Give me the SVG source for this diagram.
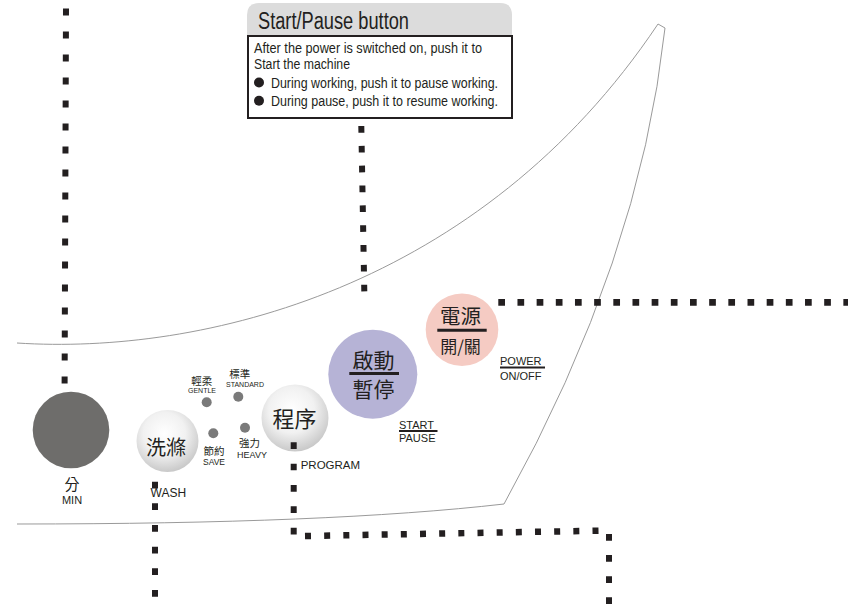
<svg xmlns="http://www.w3.org/2000/svg" width="848" height="605" viewBox="0 0 848 605">
<style>
.outline{fill:none;stroke:#9a9a9a;stroke-width:1}
.dots{fill:none;stroke:#231f20}
.en{font-family:"Liberation Sans",Arial,sans-serif;fill:#231f20}
.cjk{font-family:"Noto Sans CJK TC","Noto Sans CJK SC",sans-serif;fill:#231f20}
.mid{text-anchor:middle}
.dot{fill:#7a7a7a}
.rule{stroke:#231f20}
</style>
<defs>
<radialGradient id="sphere" cx="0.45" cy="0.38" r="0.62">
<stop offset="0" stop-color="#ffffff"/>
<stop offset="0.55" stop-color="#f1f1f1"/>
<stop offset="1" stop-color="#c9c9c9"/>
</radialGradient>
</defs>
<rect width="848" height="605" fill="#ffffff"/>

<g id="panel-outline">
<path class="outline" d="M17,343 C200,355 480,290 658,24 L665,28 Q640,260 504,504 Q330,524 17,524"/>
</g>

<g id="callout">
<path d="M247,35 V15 Q247,3 259,3 H500 Q512,3 512,15 V35 Z" fill="#dcdcdc"/>
<rect x="248" y="36" width="264" height="82" fill="#ffffff" stroke="#231f20" stroke-width="2"/>
<text class="en" x="258" y="28.5" font-size="23" textLength="151" lengthAdjust="spacingAndGlyphs">Start/Pause  button</text>
<text class="en" x="254" y="53" font-size="15.5" textLength="228" lengthAdjust="spacingAndGlyphs">After the power is switched on, push it to</text>
<text class="en" x="254" y="68.5" font-size="15.5" textLength="96" lengthAdjust="spacingAndGlyphs">Start the machine</text>
<circle cx="259" cy="82.5" r="5" fill="#231f20"/>
<text class="en" x="271" y="88" font-size="15.5" textLength="227" lengthAdjust="spacingAndGlyphs">During working, push it to pause working.</text>
<circle cx="259" cy="100.8" r="5" fill="#231f20"/>
<text class="en" x="271" y="106" font-size="15.5" textLength="227" lengthAdjust="spacingAndGlyphs">During pause, push it to resume working.</text>
</g>

<g id="min">
<circle cx="71" cy="430" r="38.3" fill="#6e6d6b"/>
<text class="cjk mid" x="72" y="490" font-size="15">分</text>
<text class="en mid" x="72" y="503.5" font-size="11">MIN</text>
</g>

<g id="wash">
<circle cx="167.5" cy="441" r="31" fill="url(#sphere)"/>
<text class="cjk mid" x="166" y="455" font-size="20">洗滌</text>
<text class="en" x="150.5" y="497" font-size="12">WASH</text>
</g>

<g id="gentle">
<circle class="dot" cx="206.7" cy="402.3" r="5"/>
<text class="cjk mid" x="201.7" y="384.5" font-size="10.5">輕柔</text>
<text class="en mid" x="202" y="393.3" font-size="7">GENTLE</text>
</g>

<g id="standard">
<circle class="dot" cx="238.3" cy="396.7" r="5"/>
<text class="cjk mid" x="239.7" y="377.8" font-size="10.5">標準</text>
<text class="en mid" x="245" y="386.7" font-size="7">STANDARD</text>
</g>

<g id="save">
<circle class="dot" cx="213.3" cy="433.3" r="5"/>
<text class="cjk mid" x="214" y="454.5" font-size="10.5">節約</text>
<text class="en mid" x="214" y="464.5" font-size="8.5">SAVE</text>
</g>

<g id="heavy">
<circle class="dot" cx="245" cy="427.7" r="5"/>
<text class="cjk mid" x="249.5" y="447" font-size="10.5">強力</text>
<text class="en mid" x="252" y="457.5" font-size="9">HEAVY</text>
</g>

<g id="program">
<circle cx="295" cy="418" r="33.5" fill="url(#sphere)"/>
<text class="cjk mid" x="294.5" y="427" font-size="22">程序</text>
<text class="en" x="300.7" y="469" font-size="11.5">PROGRAM</text>
</g>

<g id="start-pause">
<circle cx="372.8" cy="374.2" r="44.5" fill="#b6b3d6"/>
<text class="cjk mid" x="373.5" y="367.5" font-size="21">啟動</text>
<line class="rule" x1="349.3" y1="373.5" x2="399" y2="373.5" stroke-width="3"/>
<text class="cjk mid" x="373.5" y="397" font-size="21">暫停</text>
<text class="en" x="399" y="428.7" font-size="11">START</text>
<line class="rule" x1="399" y1="431" x2="437.5" y2="431" stroke-width="2"/>
<text class="en" x="399" y="441.7" font-size="11">PAUSE</text>
</g>

<g id="power">
<circle cx="462" cy="329.7" r="36.3" fill="#f5cbc3"/>
<text class="cjk mid" x="460.5" y="323.5" font-size="20.5">電源</text>
<line class="rule" x1="437.3" y1="330.2" x2="486.7" y2="330.2" stroke-width="3"/>
<text class="cjk mid" x="460.5" y="352.5" font-size="17">開/關</text>
<text class="en" x="500" y="364.5" font-size="11">POWER</text>
<line class="rule" x1="500" y1="367.5" x2="545" y2="367.5" stroke-width="2"/>
<text class="en" x="500" y="380" font-size="11">ON/OFF</text>
</g>

<g id="connectors">
<line class="dots" x1="66" y1="8.5" x2="64.6" y2="383.6" stroke-width="6" stroke-dasharray="7 16"/>
<line class="dots" x1="361.3" y1="126" x2="364.3" y2="291.4" stroke-width="6" stroke-dasharray="6.7 13.14"/>
<line class="dots" x1="498.3" y1="302.3" x2="850" y2="302.3" stroke-width="6.7" stroke-dasharray="6.7 12.47"/>
<line class="dots" x1="293.7" y1="442.3" x2="293.7" y2="534.4" stroke-width="6" stroke-dasharray="6.7 14.65"/>
<line class="dots" x1="305" y1="536" x2="598.7" y2="530.7" stroke-width="6.5" stroke-dasharray="6 13.17"/>
<line class="dots" x1="609" y1="534" x2="609" y2="606" stroke-width="6" stroke-dasharray="6.7 14.4"/>
<line class="dots" x1="155" y1="481.7" x2="155" y2="606" stroke-width="6" stroke-dasharray="6.7 14.96"/>
</g>
</svg>
